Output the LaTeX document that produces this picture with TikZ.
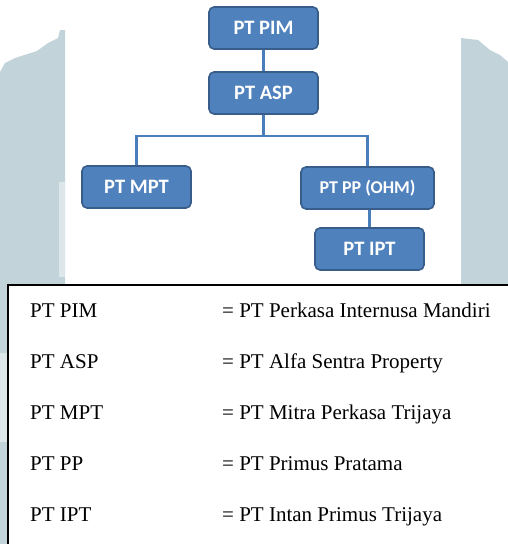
\documentclass[tikz,border=0pt]{standalone}
\usepackage{fontspec}
\setmainfont{Liberation Serif}
\newfontfamily\boxfont{Carlito}
\usepackage{xcolor}
\usepackage{tikz}
\usetikzlibrary{positioning}
\definecolor{boxfill}{HTML}{4F81BD}
\definecolor{boxline}{HTML}{385D8A}
\definecolor{linkcol}{HTML}{4A7EBB}
\definecolor{wmarkcol}{HTML}{C2D4DA}
\definecolor{wmarklight}{HTML}{DDE6E9}
\begin{document}
\begin{tikzpicture}[
  x=1pt,
  y=-1pt,
  unit/.style={draw=boxline, fill=boxfill, line width=1.6pt, rounded corners=5pt, minimum width=109pt, minimum height=42pt, inner sep=0pt, text=white, font=\boxfont\bfseries\fontsize{20.5}{22}\selectfont},
  link/.style={draw=linkcol, line width=2.6pt},
  legtext/.style={anchor=base west, inner sep=0pt, font=\fontsize{21}{24}\selectfont}
]
\useasboundingbox (0,0) rectangle (508,544);
\fill[wmarkcol] (0,72) -- (5,63) -- (15,58) -- (37,51) -- (48,43) -- (58,38) -- (60,30) -- (65,30) -- (65,285) -- (8,285) -- (8,544) -- (0,544) -- cycle;
\fill[wmarkcol] (461,38) -- (478,40) -- (490,50) -- (500,55) -- (508,62) -- (508,285) -- (461,285) -- cycle;
\fill[wmarklight] (59,182) rectangle (65,277);
\fill[wmarklight] (0,353) rectangle (8,442);

\node[unit] (pim) at (263.5,28) {PT PIM};
\node[unit] (asp) at (263.5,93) {PT ASP};
\node[unit] (mpt) at (136.5,187) {PT MPT};
\node[unit, minimum width=133pt, font=\boxfont\bfseries\fontsize{18}{20}\selectfont] (pp) at (367.5,188) {PT PP (OHM)};
\node[unit] (ipt) at (369.5,249) {PT IPT};
\draw[link] (pim) -- (asp);
\draw[link] (asp.south) -- ++(0,21) -| (mpt.north);
\draw[link] (asp.south) -- ++(0,21) -| (pp.north);
\draw[link] (ipt.north |- pp.south) -- (ipt.north);

\fill[white] (8,285) rectangle (508,544);
\draw[line width=2pt] (8,546) -- (8,285) -- (510,285);
\node[legtext] (k1) at (30,317) {PT PIM};
\node[legtext] (v1) at (222,317) {= PT Perkasa Internusa Mandiri};
\node[legtext] (k2) at (30,368) {PT ASP};
\node[legtext] (v2) at (222,368) {= PT Alfa Sentra Property};
\node[legtext] (k3) at (30,419) {PT MPT};
\node[legtext] (v3) at (222,419) {= PT Mitra Perkasa Trijaya};
\node[legtext] (k4) at (30,470) {PT PP};
\node[legtext] (v4) at (222,470) {= PT Primus Pratama};
\node[legtext] (k5) at (30,521) {PT IPT};
\node[legtext] (v5) at (222,521) {= PT Intan Primus Trijaya};
\end{tikzpicture}
\end{document}
